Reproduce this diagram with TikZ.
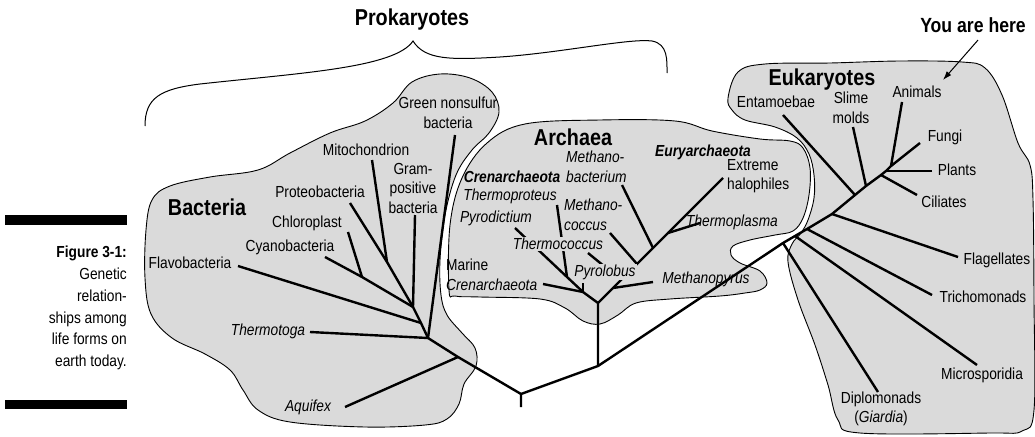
\documentclass[tikz,border=0pt]{standalone}
\usepackage{fontspec}
\setmainfont[FakeStretch=0.86]{Liberation Sans}
\usetikzlibrary{arrows.meta}
\definecolor{blobgray}{RGB}{218,218,218}

\begin{document}
\begin{tikzpicture}[x=1pt, y=-1pt,
  blob/.style={fill=blobgray, draw=black, line width=0.9pt},
  branch/.style={line width=2.4pt, line join=round},
  lbl/.style={font=\fontsize{16}{19.5}\selectfont, align=center, inner sep=1pt},
  ital/.style={lbl, font=\fontsize{16}{19.5}\selectfont\itshape},
  group/.style={font=\fontsize{23}{26}\selectfont\bfseries, inner sep=0pt},
  clade/.style={font=\fontsize{16}{19}\selectfont\bfseries\itshape, inner sep=0pt}]
\useasboundingbox (0,0) rectangle (1035,436);

% the three groups
\draw[blob] plot[smooth cycle, tension=0.6] coordinates {(440,74) (470,78) (492,92) (499,112) (489,133) (472,150) (456,175) (445,215) (440,260) (441,295) (447,315) (462,333) (475,348) (476,366) (464,384) (459,404) (447,419) (425,425) (365,427) (290,422) (258,410) (243,390) (230,370) (205,354) (172,338) (151,314) (145,278) (146,230) (152,200) (170,186) (210,177) (258,170) (290,153) (330,133) (365,121) (393,103) (412,82)};
\draw[blob] plot[smooth cycle, tension=0.6] coordinates {(449,290) (450,225) (462,178) (487,143) (525,124) (600,120) (675,121) (712,131) (760,139) (790,141) (803,148) (810,168) (809,195) (803,218) (793,231) (775,235) (750,240) (733,246) (731,255) (740,263) (760,271) (767,283) (760,290) (745,293) (720,296) (670,299) (636,303) (618,315) (600,324) (583,321) (565,308) (540,299) (480,297) (455,296)};
\draw[blob] plot[smooth cycle, tension=0.6] coordinates {(728,98) (738,72) (765,64) (830,63) (900,61) (962,62) (985,68) (1002,95) (1018,143) (1030,165) (1033,200) (1034,300) (1034,410) (1022,431) (990,433) (860,433) (838,420) (828,385) (815,345) (798,300) (788,262) (792,244) (801,233) (808,220) (814,198) (814,175) (809,154) (797,138) (775,127) (745,120) (732,110)};

% brace over the prokaryotes
\draw[line width=1pt] (145,126) .. controls (145,98) and (160,89) .. (200,84) .. controls (300,73) and (395,68) .. (413,41) .. controls (425,60) and (450,60) .. (500,57) .. controls (560,53) and (630,38) .. (652,41) .. controls (668,44) and (667,60) .. (667,73);

% junctions
\coordinate (stub) at (521,407);
\coordinate (root) at (521,394);
\coordinate (aqj) at (458,357);
\coordinate (b1) at (428,338);
\coordinate (b2) at (421,323);
\coordinate (b3) at (413,307);
\coordinate (mj) at (387,262);
\coordinate (cj) at (362,277);
\coordinate (aj) at (598,366);
\coordinate (ar) at (598,303);
\coordinate (al) at (583,292);
\coordinate (tpj) at (567,277);
\coordinate (mpj) at (613,288);
\coordinate (tcj) at (621,280);
\coordinate (mcj) at (637,264);
\coordinate (mbj) at (653,248);
\coordinate (tmj) at (668,233);
\coordinate (dj) at (783,243);
\coordinate (msj) at (795,236);
\coordinate (trj) at (807,229);
\coordinate (fgj) at (832,214);
\coordinate (enj) at (855,195);
\coordinate (slj) at (866,186);
\coordinate (cij) at (881,175);
\coordinate (pnj) at (886,171);
\coordinate (anj) at (891,166);

% leaf ends
\coordinate (gnsT) at (455,135);
\coordinate (miT) at (372,160);
\coordinate (grT) at (415,215);
\coordinate (prT) at (350,203);
\coordinate (chT) at (348,232);
\coordinate (cyT) at (325,257);
\coordinate (flT) at (238,266);
\coordinate (tgT) at (310,332);
\coordinate (aqT) at (345,407);
\coordinate (maT) at (543,284);
\coordinate (pdT) at (515,228);
\coordinate (tpT) at (557,205);
\coordinate (plT) at (583,283);
\coordinate (mpT) at (653,282);
\coordinate (tcT) at (588,253);
\coordinate (mcT) at (610,233);
\coordinate (mbT) at (622,185);
\coordinate (tmT) at (700,223);
\coordinate (ehT) at (723,178);
\coordinate (dpT) at (878,392);
\coordinate (msT) at (977,365);
\coordinate (trT) at (932,295);
\coordinate (fgT) at (958,257);
\coordinate (enT) at (783,115);
\coordinate (slT) at (853,127);
\coordinate (ciT) at (917,195);
\coordinate (pnT) at (932,171);
\coordinate (anT) at (902,102);
\coordinate (fuT) at (920,143);

% bacteria
\draw[branch] (stub) -- (root) -- (aqj) -- (b1) -- (b2) -- (b3);
\draw[branch] (aqT) -- (aqj);
\draw[branch] (tgT) -- (b1);
\draw[branch] (gnsT) -- (b1);
\draw[branch] (flT) -- (b2);
\draw[branch] (grT) -- (b3);
\draw[branch] (prT) -- (mj) -- (b3);
\draw[branch] (miT) -- (mj);
\draw[branch] (cyT) -- (cj) -- (b3);
\draw[branch] (chT) -- (cj);

% archaea
\draw[branch] (root) -- (aj) -- (ar) -- (al);
\draw[branch] (maT) -- (al);
\draw[branch] (pdT) -- (tpj) -- (al);
\draw[branch] (tpT) -- (tpj);
\draw[branch] (plT) -- (al);
\draw[branch] (ar) -- (mpj) -- (tcj) -- (mcj) -- (mbj) -- (tmj) -- (ehT);
\draw[branch] (mpT) -- (mpj);
\draw[branch] (tcT) -- (tcj);
\draw[branch] (mcT) -- (mcj);
\draw[branch] (mbT) -- (mbj);
\draw[branch] (tmT) -- (tmj);

% eukaryotes
\draw[branch] (aj) -- (dj) -- (msj) -- (trj) -- (fgj) -- (enj) -- (slj) -- (cij) -- (pnj) -- (anj) -- (fuT);
\draw[branch] (dpT) -- (dj);
\draw[branch] (msT) -- (msj);
\draw[branch] (trT) -- (trj);
\draw[branch] (fgT) -- (fgj);
\draw[branch] (enT) -- (enj);
\draw[branch] (slT) -- (slj);
\draw[branch] (ciT) -- (cij);
\draw[branch] (pnT) -- (pnj);
\draw[branch] (anT) -- (anj);

% labels
\node[font=\fontsize{23}{26}\selectfont\bfseries] (prok) at (412,20) {Prokaryotes};
\node[font=\fontsize{20.5}{24}\selectfont\bfseries] (here) at (973,25) {You are here};
\coordinate (hereT) at (943,80);
\draw[line width=1pt, -{Latex[length=9pt,width=6pt]}] (here.south) ++(5,4) -- (hereT);

\node[group] (bact) at (207,207) {Bacteria};
\node[lbl] (gns) at (448,113) {Green nonsulfur\\bacteria};
\node[lbl] (mito) at (366,150) {Mitochondrion};
\node[lbl] (gram) at (413,188) {Gram-\\positive\\bacteria};
\node[lbl] (proteo) at (320,192) {Proteobacteria};
\node[lbl] (chloro) at (307,223) {Chloroplast};
\node[lbl] (cyano) at (290,247) {Cyanobacteria};
\node[lbl] (flavo) at (190,263) {Flavobacteria};
\node[ital] (tmtoga) at (268,331) {Thermotoga};
\node[ital] (aquifex) at (308,407) {Aquifex};

\node[group] (arch) at (573,137) {Archaea};
\node[clade] (eury) at (703,152) {Euryarchaeota};
\node[clade] (cren) at (512,177) {Crenarchaeota};
\node[ital, align=left, anchor=west] (mbact) at (565,167) {Methano-\\bacterium};
\node[ital] (tprot) at (510,196) {Thermoproteus};
\node[ital, align=left, anchor=west] (mcocc) at (563,215) {Methano-\\coccus};
\node[ital] (pdict) at (496,218) {Pyrodictium};
\node[ital, fill=blobgray] (tcocc) at (558,244) {Thermococcus};
\node[lbl, align=left, anchor=west] (marine) at (445,275) {Marine\\\textit{Crenarchaeota}};
\node[ital, fill=blobgray] (pyrol) at (605,272) {Pyrolobus};
\node[ital] (mpyr) at (706,279) {Methanopyrus};
\node[lbl, align=left, anchor=west] (halo) at (726,176) {Extreme\\halophiles};
\node[ital] (tplas) at (732,222) {Thermoplasma};

\node[group] (euk) at (822,80) {Eukaryotes};
\node[lbl] (entam) at (776,102) {Entamoebae};
\node[lbl] (slime) at (851,108) {Slime\\molds};
\node[lbl] (anim) at (917,92) {Animals};
\node[lbl] (fungi) at (945,137) {Fungi};
\node[lbl] (plants) at (957,170) {Plants};
\node[lbl] (cil) at (944,202) {Ciliates};
\node[lbl] (flag) at (997,260) {Flagellates};
\node[lbl] (trich) at (983,297) {Trichomonads};
\node[lbl] (micro) at (982,375) {Microsporidia};
\node[lbl] (diplo) at (881,409) {Diplomonads\\(\textit{Giardia})};

% caption
\fill (5,215) rectangle (127,225);
\fill (5,400) rectangle (127,409);
\node[font=\fontsize{16}{21.8}\selectfont, align=right, anchor=east, inner sep=0pt] (caption) at (127,308) {\textbf{Figure 3-1:}\\Genetic\\relation-\\ships among\\life forms on\\earth today.};
\end{tikzpicture}
\end{document}
